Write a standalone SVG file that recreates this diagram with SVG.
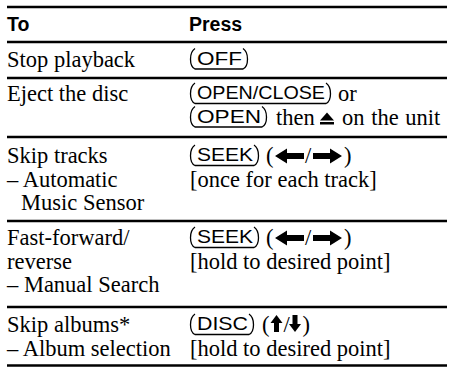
<svg xmlns="http://www.w3.org/2000/svg" width="449" height="367" viewBox="0 0 449 367">
<style>
.h{font-family:"Liberation Sans",Arial,sans-serif;font-weight:bold;font-size:19.5px;fill:#000}
.t{font-family:"Liberation Serif","Times New Roman",serif;font-size:22.5px;fill:#000}
.b{font-family:"Liberation Sans",Arial,sans-serif;font-size:18px;fill:#000}
.btn{fill:none;stroke:#000;stroke-width:1.3}
.rule{stroke:#000;stroke-width:2.6}
.sym{fill:#000}
</style>
<rect width="449" height="367" fill="#fff"/>
<g id="rules">
<line class="rule" x1="7" y1="7" x2="447" y2="7"/>
<line class="rule" x1="7" y1="42" x2="447" y2="42"/>
<line class="rule" x1="7" y1="78" x2="447" y2="78"/>
<line class="rule" x1="7" y1="137" x2="447" y2="137"/>
<line class="rule" x1="7" y1="221" x2="447" y2="221"/>
<line class="rule" x1="7" y1="307" x2="447" y2="307"/>
<line class="rule" x1="7" y1="365.5" x2="447" y2="365.5"/>
</g>
<g id="header">
<text class="h" x="7" y="31">To</text>
<text class="h" x="189" y="31">Press</text>
</g>
<g id="row-stop">
<text class="t" x="7" y="66.5">Stop playback</text>
<path class="btn" d="M195,48.5 C189,52.5 189,66 195,69 H243 C249,66 249,52.5 243,48.5"/>
<text class="b" x="197" y="64.5" textLength="45" lengthAdjust="spacingAndGlyphs">OFF</text>
</g>
<g id="row-eject">
<text class="t" x="7" y="101">Eject the disc</text>
<path class="btn" d="M195,83 C189,87 189,100.5 195,103.5 H326 C332,100.5 332,87 326,83"/>
<text class="b" x="197" y="99" textLength="128" lengthAdjust="spacingAndGlyphs">OPEN/CLOSE</text>
<text class="t" x="338" y="101">or</text>
<path class="btn" d="M195,106.5 C189,110.5 189,124 195,127 H262 C268,124 268,110.5 262,106.5"/>
<text class="b" x="197" y="122.5" textLength="64" lengthAdjust="spacingAndGlyphs">OPEN</text>
<text class="t" x="276" y="124.5">then</text>
<polygon class="sym" points="320,120.5 334,120.5 327,112.5"/>
<rect class="sym" x="320" y="122" width="14" height="2.5"/>
<text class="t" x="342" y="124.5" style="word-spacing:1px">on the unit</text>
</g>
<g id="row-skip-tracks">
<text class="t" x="7" y="163">Skip tracks</text>
<text class="t" x="7" y="186.5">– Automatic</text>
<text class="t" x="21" y="210">Music Sensor</text>
<path class="btn" d="M195,145 C189,149 189,162.5 195,165.5 H254 C260,162.5 260,149 254,145"/>
<text class="b" x="197" y="161" textLength="56" lengthAdjust="spacingAndGlyphs">SEEK</text>
<text class="t" x="266" y="163">(</text>
<polygon class="sym" points="275,156 287,148.5 287,153 304,153 304,159 287,159 287,163.5"/>
<text class="t" x="305" y="163">/</text>
<polygon class="sym" points="342,156 330,148.5 330,153 313,153 313,159 330,159 330,163.5"/>
<text class="t" x="344" y="163">)</text>
<text class="t" x="190" y="186.5">[once for each track]</text>
</g>
<g id="row-fast-forward">
<text class="t" x="7" y="245">Fast-forward/</text>
<text class="t" x="7" y="268.5">reverse</text>
<text class="t" x="7" y="292">– Manual Search</text>
<path class="btn" d="M195,227 C189,231 189,244.5 195,247.5 H254 C260,244.5 260,231 254,227"/>
<text class="b" x="197" y="243" textLength="56" lengthAdjust="spacingAndGlyphs">SEEK</text>
<text class="t" x="266" y="245">(</text>
<polygon class="sym" points="275,238 287,230.5 287,235 304,235 304,241 287,241 287,245.5"/>
<text class="t" x="305" y="245">/</text>
<polygon class="sym" points="342,238 330,230.5 330,235 313,235 313,241 330,241 330,245.5"/>
<text class="t" x="344" y="245">)</text>
<text class="t" x="190" y="268.5">[hold to desired point]</text>
</g>
<g id="row-skip-albums">
<text class="t" x="7" y="332">Skip albums*</text>
<text class="t" x="7" y="355.5">– Album selection</text>
<path class="btn" d="M195,314 C189,318 189,331.5 195,334.5 H249 C255,331.5 255,318 249,314"/>
<text class="b" x="197" y="330" textLength="51" lengthAdjust="spacingAndGlyphs">DISC</text>
<text class="t" x="262" y="332">(</text>
<polygon class="sym" points="276.5,315 282.5,323 279,323 279,332 274,332 274,323 270.5,323"/>
<text class="t" x="283.5" y="332">/</text>
<polygon class="sym" points="295,332 301,324 297.5,324 297.5,315 292.5,315 292.5,324 289,324"/>
<text class="t" x="302.5" y="332">)</text>
<text class="t" x="190" y="355.5">[hold to desired point]</text>
</g>
</svg>
